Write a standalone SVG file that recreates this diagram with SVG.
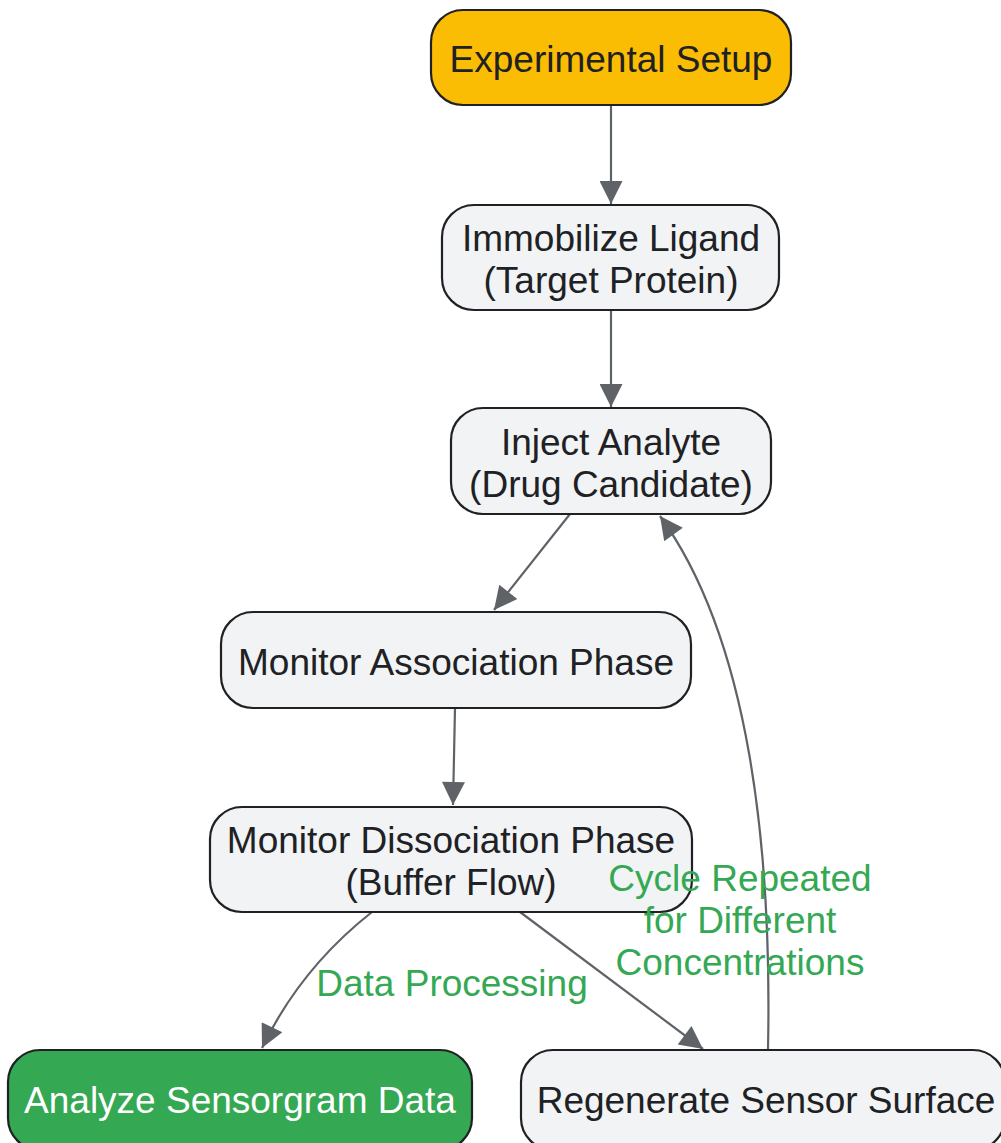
<svg xmlns="http://www.w3.org/2000/svg" width="1001" height="1143" viewBox="0 0 1001 1143">
<style>
.node rect{fill:#F1F3F4;stroke:#202124;stroke-width:2.2}
.t{font-family:"Liberation Sans",Arial,sans-serif;font-size:37px;fill:#202124;text-anchor:middle}
.lbl{font-family:"Liberation Sans",Arial,sans-serif;font-size:37px;fill:#34A853;text-anchor:middle}
.edge{fill:none;stroke:#5F6368;stroke-width:2.2}
</style>
<defs>
<marker id="ah" viewBox="0 0 10 10" refX="10" refY="5" markerWidth="30" markerHeight="23" markerUnits="userSpaceOnUse" orient="auto">
<path d="M0,0 L10,5 L0,10 z" fill="#5F6368"/>
</marker>
</defs>
<rect width="1001" height="1143" fill="#FFFFFF"/>
<g id="edges">
<path class="edge" d="M611,105 L611,204" marker-end="url(#ah)"/>
<path class="edge" d="M611,310 L611,407" marker-end="url(#ah)"/>
<path class="edge" d="M570,514 L494,610" marker-end="url(#ah)"/>
<path class="edge" d="M455,708 L453,805" marker-end="url(#ah)"/>
<path class="edge" d="M372,912 C330,945 290,990 262,1048" marker-end="url(#ah)"/>
<path class="edge" d="M520,912 L703,1049" marker-end="url(#ah)"/>
<path class="edge" d="M768,1050 C772,850 750,640 660,516" marker-end="url(#ah)"/>
</g>
<g id="setup" class="node">
<rect x="431" y="10" width="360" height="95" rx="32" style="fill:#FBBC04"/>
<text class="t" x="611" y="72">Experimental Setup</text>
</g>
<g id="immobilize" class="node">
<rect x="442" y="205" width="337" height="105" rx="32"/>
<text class="t" x="611" y="251">Immobilize Ligand</text>
<text class="t" x="611" y="293">(Target Protein)</text>
</g>
<g id="inject" class="node">
<rect x="451" y="408" width="320" height="106" rx="32"/>
<text class="t" x="611" y="455">Inject Analyte</text>
<text class="t" x="611" y="497">(Drug Candidate)</text>
</g>
<g id="association" class="node">
<rect x="221" y="612" width="470" height="96" rx="32"/>
<text class="t" x="456" y="675">Monitor Association Phase</text>
</g>
<g id="dissociation" class="node">
<rect x="210" y="807" width="482" height="105" rx="32"/>
<text class="t" x="451" y="853">Monitor Dissociation Phase</text>
<text class="t" x="451" y="895">(Buffer Flow)</text>
</g>
<g id="analyze" class="node">
<rect x="8" y="1050" width="464" height="100" rx="32" style="fill:#34A853"/>
<text class="t" x="240" y="1113" style="fill:#FFFFFF">Analyze Sensorgram Data</text>
</g>
<g id="regenerate" class="node">
<rect x="521" y="1050" width="484" height="100" rx="32"/>
<text class="t" x="766" y="1113">Regenerate Sensor Surface</text>
</g>
<g id="edge-labels">
<text class="lbl" x="452" y="996">Data Processing</text>
<text class="lbl" x="740" y="891">Cycle Repeated</text>
<text class="lbl" x="740" y="933">for Different</text>
<text class="lbl" x="740" y="975">Concentrations</text>
</g>
</svg>
